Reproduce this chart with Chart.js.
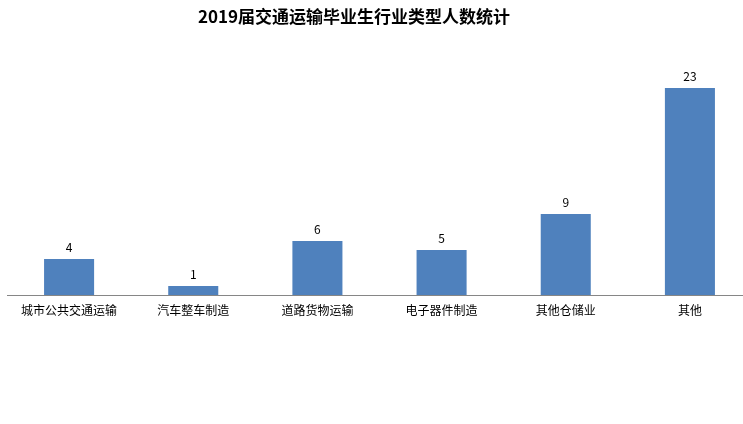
<!DOCTYPE html>
<html>
<head>
<meta charset="utf-8">
<script src="https://cdn.jsdelivr.net/npm/chart.js@4/dist/chart.umd.min.js"></script>
<style>
  html, body { margin: 0; padding: 0; background: #fff; overflow: hidden; }
  #wrap { position: relative; width: 752px; height: 424px; }
</style>
</head>
<body>
<div id="wrap"><canvas id="c"></canvas></div>
<script>
const chartTitle = '2019届交通运输毕业生行业类型人数统计';
const categories = ['城市公共交通运输', '汽车整车制造', '道路货物运输', '电子器件制造', '其他仓储业', '其他'];
const counts = [4, 1, 6, 5, 9, 23];

const cjk = '"Noto Sans CJK SC", "Noto Sans", sans-serif';

// Title drawn at a fixed spot above the plot
const titlePlugin = {
  id: 'fixedTitle',
  afterDraw(chart) {
    const ctx = chart.ctx;
    ctx.save();
    ctx.font = 'bold 17px ' + cjk;
    ctx.fillStyle = '#000';
    ctx.textAlign = 'center';
    ctx.textBaseline = 'middle';
    ctx.fillText(chartTitle, 354, 17);
    ctx.restore();
  }
};

// Value labels above each bar
const valueLabels = {
  id: 'valueLabels',
  afterDatasetsDraw(chart) {
    const ctx = chart.ctx;
    const meta = chart.getDatasetMeta(0);
    ctx.save();
    ctx.font = '12px ' + cjk;
    ctx.fillStyle = '#000';
    ctx.textAlign = 'center';
    ctx.textBaseline = 'middle';
    meta.data.forEach((bar, i) => {
      ctx.fillText(String(counts[i]), bar.x, bar.y - 12);
    });
    ctx.restore();
  }
};

new Chart(document.getElementById('c'), {
  type: 'bar',
  data: {
    labels: categories,
    datasets: [{
      data: counts,
      backgroundColor: '#4F81BD',
      borderWidth: 0,
      categoryPercentage: 1,
      barPercentage: 0.403
    }]
  },
  options: {
    responsive: true,
    maintainAspectRatio: false,
    animation: false,
    layout: { padding: { left: 7, right: 0, top: 70, bottom: 0 } },
    plugins: {
      legend: { display: false },
      title: { display: false },
      tooltip: { enabled: false }
    },
    scales: {
      x: {
        grid: { display: false, drawTicks: false },
        border: { display: true, color: '#868686', width: 1 },
        ticks: {
          color: '#000',
          font: { family: cjk, size: 12 },
          padding: 8,
          maxRotation: 0,
          autoSkip: false
        },
        afterFit(scale) { scale.height = 129; }
      },
      y: {
        display: false,
        min: 0,
        max: 25
      }
    }
  },
  plugins: [titlePlugin, valueLabels]
});
</script>
</body>
</html>
